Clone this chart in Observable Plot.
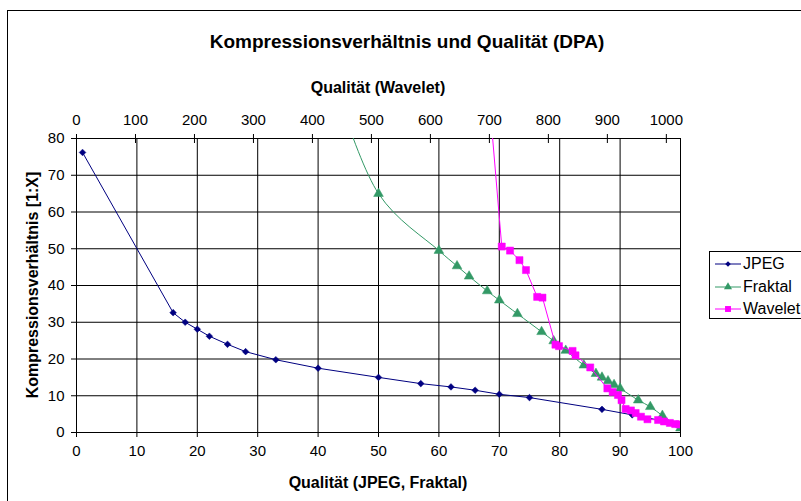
<!DOCTYPE html>
<html>
<head>
<meta charset="utf-8">
<script src="https://cdn.jsdelivr.net/npm/d3@7"></script>
<script src="https://cdn.jsdelivr.net/npm/@observablehq/plot@0.6"></script>
<style>
  html, body { margin: 0; padding: 0; background: #fff; overflow: hidden; }
  #chart { position: relative; width: 801px; height: 501px; font-family: "Liberation Sans", Arial, sans-serif; color: #000; overflow: hidden; }
  #chart svg.plot { position: absolute; left: 0; top: 0; }
  .frame { position: absolute; left: 7px; top: 10px; width: 820px; height: 520px; border: 1px solid #000; box-sizing: border-box; }
  .t { position: absolute; white-space: nowrap; line-height: 1; transform: translate(-50%, -50%); }
  .legend { position: absolute; left: 709px; top: 251px; width: 100px; height: 68px; border: 1px solid #000; box-sizing: border-box; background: #fff; }
  .legend .row { position: absolute; left: 5px; height: 20px; display: flex; align-items: center; font-size: 16px; }
  .legend svg { margin-right: 2px; }
</style>
</head>
<body>
<div id="chart">
  <div class="frame"></div>
</div>
<script>
// ---- data ----
const titleText = "Kompressionsverhältnis und Qualität (DPA)";
const xTitle = "Qualität (JPEG, Fraktal)";
const x2Title = "Qualität (Wavelet)";
const yTitle = "Kompressionsverhältnis [1:X]";

const xTicks = [0, 10, 20, 30, 40, 50, 60, 70, 80, 90, 100];
const yTicks = [0, 10, 20, 30, 40, 50, 60, 70, 80];
const waveTicks = [0, 100, 200, 300, 400, 500, 600, 700, 800, 900, 1000];
const WAVE_MAX = 1024;

const seriesNames = ["JPEG", "Fraktal", "Wavelet"];
const seriesColors = ["#000080", "#339966", "#FF00FF"];
const seriesSymbols = ["diamond2", "triangle", "square"];

const jpegQ = [1, 16, 18, 20, 22, 25, 28, 33, 40, 50, 57, 62, 66, 70, 75, 87, 92, 100];
const jpegR = [76.2, 32.6, 30, 28.1, 26.2, 24, 22, 19.8, 17.5, 15, 13.3, 12.4, 11.5, 10.4, 9.5, 6.3, 4.8, 2.2];

const fraktalQ = [40, 50, 60, 63, 65, 68, 70, 73, 77, 79, 81, 84, 86, 87, 88, 89, 90, 93, 95, 97, 100];
const fraktalR = [110, 65, 49.5, 45.3, 42.5, 38.5, 36, 32.3, 27.4, 24.9, 22.3, 18.3, 16, 15, 14, 13, 12, 8.8, 7, 4.6, 1.2];

const waveQ = [695, 721, 735, 751, 762, 781, 790, 812, 818, 841, 846, 871, 900, 909, 918, 924, 931, 940, 948, 957, 968, 986, 996, 1006, 1015, 1022];
const waveR = [100, 50.6, 49.5, 46.9, 44.2, 36.9, 36.7, 23.9, 23.5, 22.2, 21.0, 17.7, 12.0, 11.0, 10.2, 8.8, 6.4, 6.0, 5.3, 4.3, 3.6, 3.4, 3.0, 2.6, 2.3, 2.2];

// ---- tables ----
const toWave = (w) => w * 100 / WAVE_MAX; // map wavelet quality onto the shared x scale
const jpeg = jpegQ.map((q, i) => ({x: q, y: jpegR[i]}));
const fraktal = fraktalQ.map((q, i) => ({x: q, y: fraktalR[i]}));
const wave = waveQ.map((w, i) => ({x: toWave(w), y: waveR[i]}));
const series = [jpeg, fraktal, wave];
const curves = ["linear", "catmull-rom", "linear"];
const symR = [3, 3.6, 4];

const FONT = '"Liberation Sans", Arial, sans-serif';
const W = 801, H = 501;
const mL = 76, mR = 121, mT = 138, mB = 69;
const frameH = H - mT - mB;

const marks = [
  Plot.gridX(xTicks, {stroke: "#000", strokeOpacity: 1}),
  Plot.gridY(yTicks, {stroke: "#000", strokeOpacity: 1}),
  Plot.axisX(xTicks, {anchor: "bottom", tickSize: 5, tickPadding: 8, label: null, fontSize: 15}),
  Plot.axisX(waveTicks.map(toWave), {anchor: "top", tickSize: 5, tickPadding: 9, label: null, fontSize: 15,
    tickFormat: (d) => String(Math.round(d * WAVE_MAX / 100))}),
  Plot.tickX(waveTicks.map(toWave), {x: (d) => d, stroke: "#000", insetBottom: frameH - 5}),
  Plot.axisY(yTicks, {anchor: "left", tickSize: 5, tickPadding: 7, label: null, fontSize: 15})
];
series.forEach((data, i) => {
  marks.push(Plot.line(data, {x: "x", y: "y", stroke: seriesColors[i], strokeWidth: 1, curve: curves[i], clip: true}));
  marks.push(Plot.dot(data, {x: "x", y: "y", symbol: seriesSymbols[i], r: symR[i], fill: seriesColors[i], stroke: seriesColors[i], strokeWidth: 0.5, clip: true}));
});

const chart = Plot.plot({
  width: W, height: H,
  marginLeft: mL, marginRight: mR, marginTop: mT, marginBottom: mB,
  x: {domain: [0, 100]},
  y: {domain: [0, 80]},
  style: {fontFamily: FONT, fontSize: "15px", background: "transparent", color: "#000", overflow: "visible"},
  marks
});
chart.classList.add("plot");
const root = document.getElementById("chart");
root.appendChild(chart);

function addText(txt, cx, cy, size, bold, rotate) {
  const d = document.createElement("div");
  d.className = "t";
  d.textContent = txt;
  d.style.left = cx + "px";
  d.style.top = cy + "px";
  d.style.fontSize = size + "px";
  d.style.fontWeight = bold ? "bold" : "normal";
  if (rotate) d.style.transform = "translate(-50%, -50%) rotate(-90deg)";
  root.appendChild(d);
}
addText(titleText, 407, 41, 19, true);
addText(x2Title, 378, 88, 16, true);
addText(xTitle, 378, 483, 16, true);
addText(yTitle, 33, 285, 16, true, true);

// legend
const leg = document.createElement("div");
leg.className = "legend";
root.appendChild(leg);
seriesNames.forEach((name, i) => {
  const row = document.createElement("div");
  row.className = "row";
  row.style.top = (2 + i * 22.5) + "px";
  const svg = d3.create("svg").attr("width", 26).attr("height", 14);
  svg.append("line").attr("x1", 0).attr("x2", 26).attr("y1", 7).attr("y2", 7).attr("stroke", seriesColors[i]);
  const symMap = {diamond2: d3.symbolDiamond2, triangle: d3.symbolTriangle, square: d3.symbolSquare};
  svg.append("path").attr("transform", "translate(13,7)")
    .attr("d", d3.symbol(symMap[seriesSymbols[i]], Math.PI * symR[i] * symR[i] * 0.7)())
    .attr("fill", seriesColors[i]);
  row.appendChild(svg.node());
  const s = document.createElement("span");
  s.textContent = name;
  row.appendChild(s);
  leg.appendChild(row);
});
</script>
</body>
</html>
